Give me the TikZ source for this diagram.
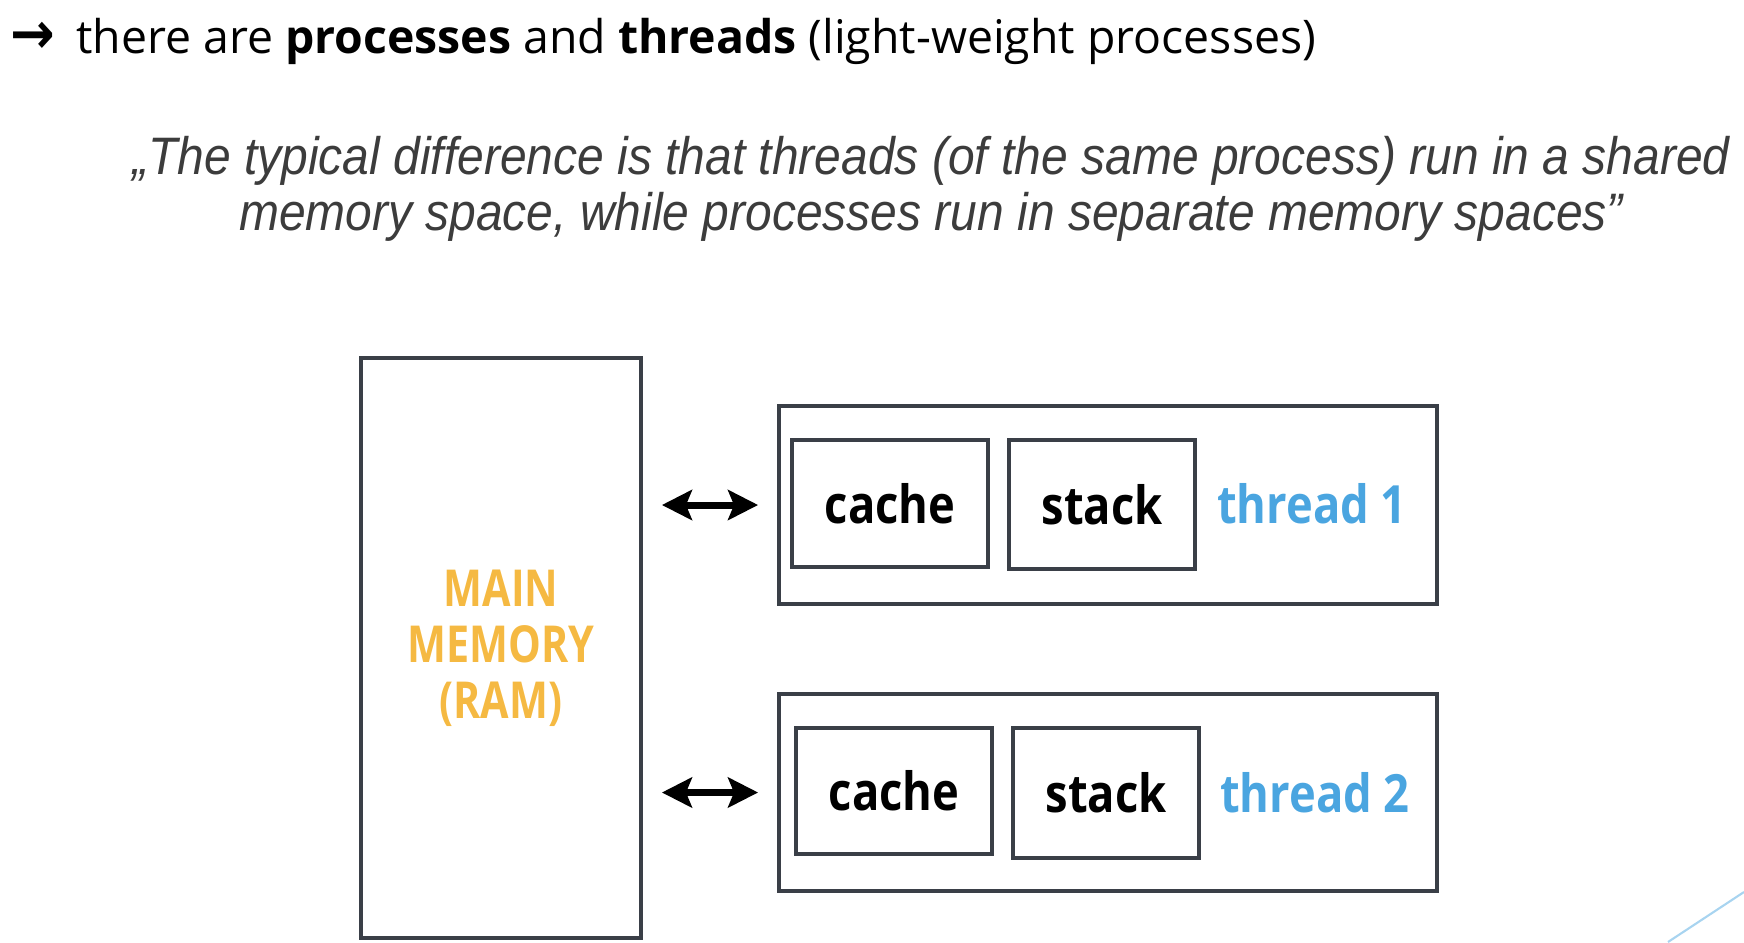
\documentclass[tikz,border=0pt]{standalone}
\usepackage{fontspec}
\setmainfont{Open Sans}
\newfontfamily\quotefont{Liberation Sans}
\newfontfamily\symbolfont{DejaVu Sans}
\usetikzlibrary{arrows.meta, positioning}

\definecolor{boxgray}{HTML}{3A3F47}
\definecolor{ramyellow}{HTML}{F5B942}
\definecolor{threadblue}{HTML}{4AA5E0}
\definecolor{quotegray}{HTML}{3C3C3C}
\definecolor{slideline}{HTML}{A8D4F0}

% squeeze text sideways, the slide is narrower than it is tall
\newcommand{\narrow}[2][0.86]{\scalebox{#1}[1]{#2}}

\begin{document}
\begin{tikzpicture}[
        x=0.1mm, y=-0.1mm,
        frame/.style={draw=boxgray, line width=1.1pt, inner sep=0pt},
        partbox/.style={frame, font=\fontsize{15}{15}\selectfont\bfseries},
        threadname/.style={text=threadblue, font=\fontsize{15}{15}\selectfont\bfseries},
        biarrow/.style={{Stealth[length=3mm,width=3mm,inset=0.6mm]}-{Stealth[length=3mm,width=3mm,inset=0.6mm]}, line width=2pt, shorten <=1.9mm, shorten >=1.9mm}
    ]
        \useasboundingbox (0,0) rectangle (1744,942);

        % heading and quote
        \node[anchor=west, inner sep=0pt, font=\fontsize{13.2}{13.2}\selectfont] (head) at (10,41)
            {{\symbolfont\bfseries\scalebox{1.15}[1.25]{→}}\hspace{0.45em}there are \textbf{processes} and \textbf{threads} (light-weight processes)};
        \node[align=center, text=quotegray, font=\quotefont\itshape\fontsize{15}{15.9}\selectfont] (quote) at (931,189)
            {\narrow[0.91]{„The typical difference is that threads (of the same process) run in a shared}\\
             \narrow[0.91]{memory space, while processes run in separate memory spaces”}};

        % main memory
        \node[frame, minimum width=28mm, minimum height=58mm, align=center, text=ramyellow,
              font=\fontsize{14.5}{16}\selectfont\bfseries] (ram) at (501,648)
            {\narrow[0.81]{MAIN}\\ \narrow[0.81]{MEMORY}\\ \narrow[0.81]{(RAM)}};

        % thread 1
        \node[frame, minimum width=65.8mm, minimum height=19.8mm] (t1) at (1108,505) {};
        \node[partbox, minimum width=19.6mm, minimum height=12.7mm] (c1) at (890,503.5) {\narrow{cache}};
        \node[partbox, minimum width=18.6mm, minimum height=12.9mm] (s1) at (1102,504.5) {\narrow{stack}};
        \node[threadname] (n1) at (1312,504) {\narrow{thread 1}};

        % thread 2
        \node[frame, minimum width=65.8mm, minimum height=19.7mm] (t2) at (1108,792.5) {};
        \node[partbox, minimum width=19.6mm, minimum height=12.6mm] (c2) at (894,791) {\narrow{cache}};
        \node[partbox, minimum width=18.6mm, minimum height=13mm] (s2) at (1106,793) {\narrow{stack}};
        \node[threadname] (n2) at (1315,793) {\narrow{thread 2}};

        \draw[biarrow] (ram.east |- t1.west) -- (t1.west);
        \draw[biarrow] (ram.east |- t2.west) -- (t2.west);

        \draw[slideline, line width=0.6pt] (1744,892) -- (1668,942);
    \end{tikzpicture}
\end{document}
